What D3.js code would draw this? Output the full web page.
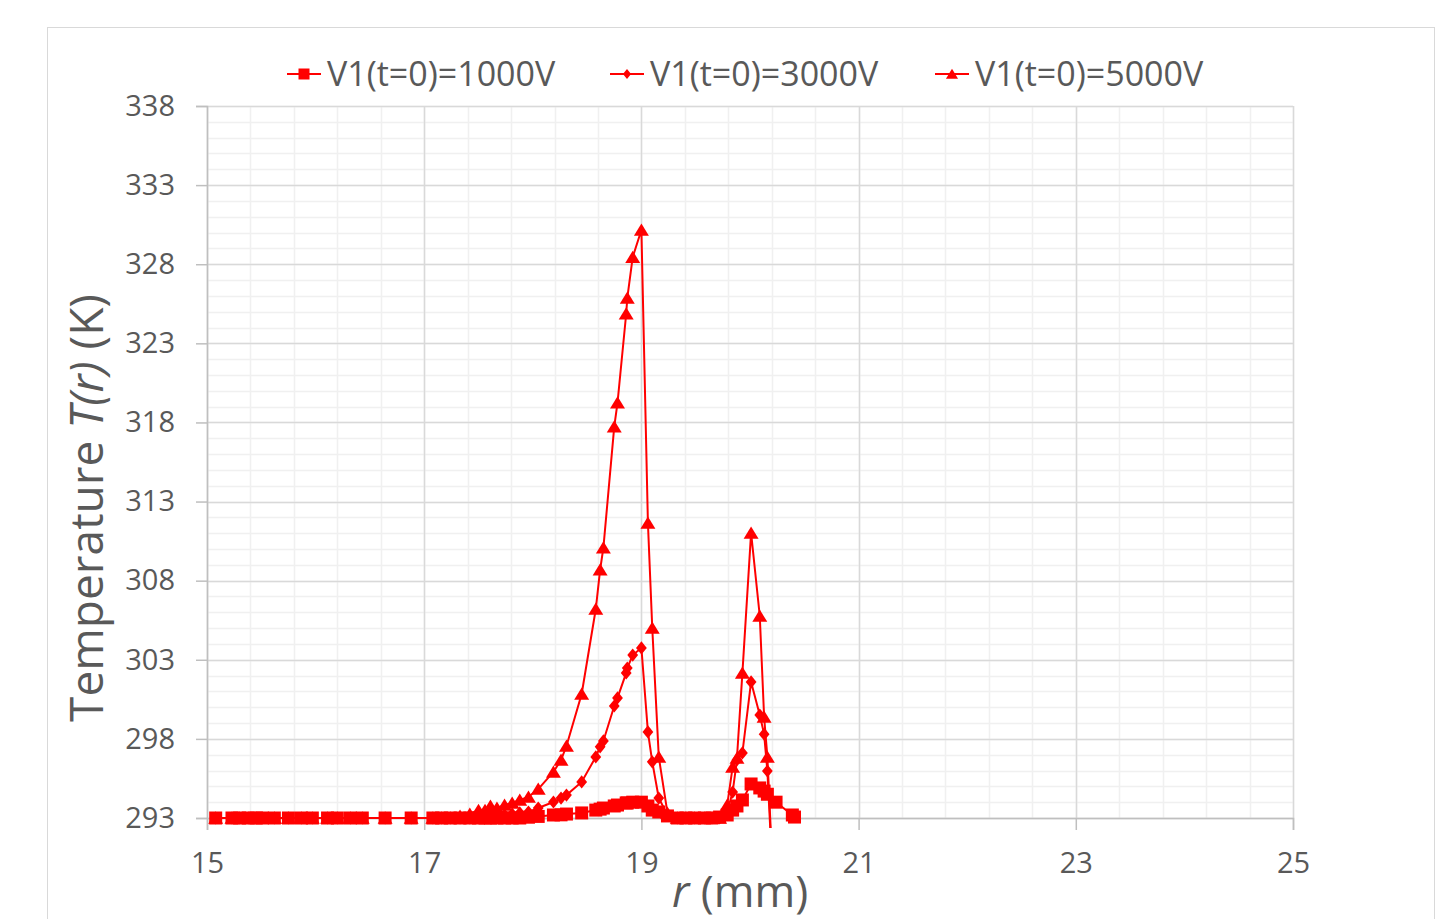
<!DOCTYPE html>
<html>
<head>
<meta charset="utf-8">
<script src="https://cdn.jsdelivr.net/npm/d3@7"></script>
<style>
  body { margin: 0; background: #fff; }
  text { font-family: "Open Sans", sans-serif; fill: #595959; }
</style>
</head>
<body>
<div id="chart"></div>
<script>
// radius grid (mm), shared by the three runs
var rVals = [15.08, 15.23, 15.30, 15.38, 15.45, 15.51, 15.62, 15.75, 15.87, 15.97,
  16.11, 16.20, 16.32, 16.43, 16.64, 16.88, 17.08, 17.16, 17.24, 17.33,
  17.42, 17.50, 17.56, 17.61, 17.67, 17.74, 17.81, 17.88, 17.96, 18.05,
  18.19, 18.26, 18.31, 18.45, 18.58, 18.62, 18.65, 18.75, 18.78, 18.86,
  18.87, 18.92, 19.00, 19.06, 19.10, 19.16, 19.24, 19.33, 19.41, 19.49,
  19.58, 19.65, 19.72, 19.79, 19.84, 19.88, 19.93, 20.01, 20.09, 20.13,
  20.16, 20.24, 20.39, 20.41];

// temperature (K)
var t1000 = [293, 293, 293, 293, 293, 293, 293, 293, 293, 293,
  293, 293, 293, 293, 293, 293, 293, 293, 293, 293,
  293, 293, 293, 293, 293, 293, 293, 293, 293.05, 293.1,
  293.19, 293.2, 293.25, 293.32, 293.5, 293.56, 293.63, 293.76, 293.82, 293.95,
  293.95, 294.0, 294.0, 293.76, 293.5, 293.38, 293.13, 293, 293, 293,
  293, 293, 293.06, 293.19, 293.5, 293.76, 294.14, 295.15, 294.9, 294.7,
  294.5, 294.0, 293.19, 293.06];

var t3000 = [293, 293, 293, 293, 293, 293, 293, 293, 293, 293,
  293, 293, 293, 293, 293, 293, 293, 293, 293, 293,
  293, 293.05, 293.05, 293.1, 293.1, 293.19, 293.25, 293.32, 293.38, 293.63,
  294.01, 294.26, 294.45, 295.28, 296.86, 297.5, 297.87, 300.08, 300.59, 302.17,
  302.48, 303.3, 303.75, 298.44, 296.55, 294.26, 293.19, 293, 293, 293,
  293, 293, 293, 293.38, 294.64, 296.67, 297.11, 301.6, 299.51, 298.3,
  295.97, 285, null, null];

var t5000 = [293, 293, 293, 293, 293, 293, 293, 293, 293, 293,
  293, 293, 293, 293, 293, 293, 293, 293, 293, 293.13,
  293.25, 293.5, 293.5, 293.76, 293.63, 293.82, 293.95, 294.14, 294.33, 294.83,
  295.91, 296.67, 297.55, 300.84, 306.21, 308.69, 310.08, 317.73, 319.24, 324.87,
  325.86, 328.45, 330.16, 311.65, 305.01, 296.86, 293.32, 293, 293, 293,
  293, 293, 293, 293.82, 296.22, 296.79, 302.17, 311.02, 305.77, 299.38,
  296.86, 285, null, null];

var seriesNames = ["V1(t=0)=1000V", "V1(t=0)=3000V", "V1(t=0)=5000V"];
var xTicks = [15, 17, 19, 21, 23, 25];
var yTicks = [293, 298, 303, 308, 313, 318, 323, 328, 333, 338];

var W = 1451, H = 919;
var red = "#ff0000";

var svg = d3.select("#chart").append("svg")
  .attr("width", W)
  .attr("height", H);

// chart frame
svg.append("rect")
  .attr("x", 47.5).attr("y", 27.5)
  .attr("width", 1387).attr("height", 1000)
  .attr("fill", "#fff")
  .attr("stroke", "#d9d9d9");

var x = d3.scaleLinear().domain([15, 25]).range([207, 1293]);
var y = d3.scaleLinear().domain([293, 338]).range([818, 106]);

// minor grid
var grid = svg.append("g");
grid.selectAll(".vmin").data(d3.range(0, 26).map(i => 15 + i * 0.4))
  .enter().append("line")
  .attr("x1", d => Math.round(x(d)) + 0.5).attr("x2", d => Math.round(x(d)) + 0.5)
  .attr("y1", y(338)).attr("y2", y(293))
  .attr("stroke", "#f0f0f0").attr("stroke-width", 1.5);
grid.selectAll(".hmin").data(d3.range(293, 339))
  .enter().append("line")
  .attr("x1", x(15)).attr("x2", x(25))
  .attr("y1", d => Math.round(y(d)) + 0.5).attr("y2", d => Math.round(y(d)) + 0.5)
  .attr("stroke", "#f0f0f0").attr("stroke-width", 1.5);

// major grid
grid.selectAll(".vmaj").data(xTicks)
  .enter().append("line")
  .attr("x1", d => Math.round(x(d)) + 0.5).attr("x2", d => Math.round(x(d)) + 0.5)
  .attr("y1", y(338)).attr("y2", y(293))
  .attr("stroke", "#d9d9d9").attr("stroke-width", 1.5);
grid.selectAll(".hmaj").data(yTicks)
  .enter().append("line")
  .attr("x1", x(15)).attr("x2", x(25))
  .attr("y1", d => Math.round(y(d)) + 0.5).attr("y2", d => Math.round(y(d)) + 0.5)
  .attr("stroke", "#d9d9d9").attr("stroke-width", 1.5);

// axes
var yAxis = d3.axisLeft(y).tickValues(yTicks).tickSize(11).tickPadding(21).tickFormat(d3.format("d"));
var xAxis = d3.axisBottom(x).tickValues(xTicks).tickSize(12).tickPadding(22).tickFormat(d3.format("d"));

var gy = svg.append("g").attr("transform", "translate(" + x(15) + ",0)").call(yAxis);
var gx = svg.append("g").attr("transform", "translate(0," + y(293) + ")").call(xAxis);
[gy, gx].forEach(function(g) {
  g.select(".domain").attr("stroke", "#bfbfbf").attr("stroke-width", 1.5);
  g.selectAll(".tick line").attr("stroke", "#bfbfbf").attr("stroke-width", 1.5);
  g.selectAll(".tick text").style("font-family", "Open Sans").style("font-size", "29px").attr("fill", "#595959");
});

// axis titles
var yt = svg.append("text")
  .attr("transform", "translate(103,508) rotate(-90)")
  .attr("text-anchor", "middle")
  .style("font-size", "46px");
yt.append("tspan").text("Temperature ");
yt.append("tspan").style("font-style", "italic").text("T(r)");
yt.append("tspan").text(" (K)");

var xt = svg.append("text")
  .attr("x", 740).attr("y", 907)
  .attr("text-anchor", "middle")
  .style("font-size", "44px");
xt.append("tspan").style("font-style", "italic").text("r");
xt.append("tspan").text(" (mm)");

// marker shapes
function markerPath(kind, s) {
  if (kind == 0) return "M" + (-s) + "," + (-s) + "H" + s + "V" + s + "H" + (-s) + "Z";
  if (kind == 1) return "M0," + (-s * 1.1) + "L" + (s * 0.9) + ",0L0," + (s * 1.1) + "L" + (-s * 0.9) + ",0Z";
  return "M0," + (-s * 0.95) + "L" + (s * 1.1) + "," + (s * 0.85) + "L" + (-s * 1.1) + "," + (s * 0.85) + "Z";
}

svg.append("defs").append("clipPath").attr("id", "plotclip")
  .append("rect").attr("x", 190).attr("y", 90).attr("width", 1120).attr("height", 738);

var plot = svg.append("g").attr("clip-path", "url(#plotclip)");

var allSeries = [t1000, t3000, t5000];
var sizes = [6.5, 6, 6.8];

allSeries.forEach(function(vals, k) {
  var pts = rVals.map(function(r, i) { return { r: r, t: vals[i] }; });
  var line = d3.line()
    .defined(d => d.t != null)
    .x(d => x(d.r))
    .y(d => y(d.t));
  plot.append("path")
    .datum(pts)
    .attr("d", line)
    .attr("fill", "none")
    .attr("stroke", red)
    .attr("stroke-width", 2);
  plot.selectAll(".m" + k)
    .data(pts.filter(d => d.t != null && d.t >= 293))
    .enter().append("path")
    .attr("transform", d => "translate(" + x(d.r) + "," + y(d.t) + ")")
    .attr("d", markerPath(k, sizes[k]))
    .attr("fill", red);
});

// legend
var legX = [287, 610, 935];
var legend = svg.append("g");
seriesNames.forEach(function(name, k) {
  var g = legend.append("g").attr("transform", "translate(" + legX[k] + ",74)");
  g.append("line").attr("x1", 0).attr("x2", 34).attr("y1", 0).attr("y2", 0)
    .attr("stroke", red).attr("stroke-width", 2);
  g.append("path").attr("transform", "translate(17,0)")
    .attr("d", markerPath(k, k == 1 ? 4.5 : 5.5)).attr("fill", red);
  g.append("text").attr("x", 40).attr("y", 0).attr("dy", "0.36em")
    .style("font-size", "34px").text(name);
});
</script>
</body>
</html>
